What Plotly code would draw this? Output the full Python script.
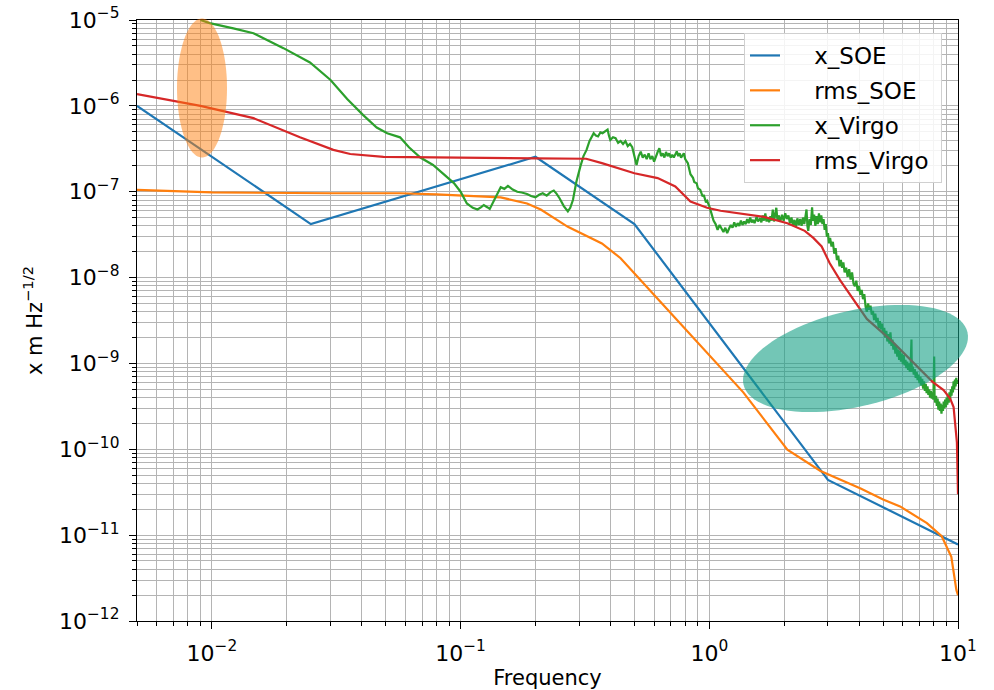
import numpy as np
import plotly.graph_objects as go

# ---------------- data ----------------
soe_f = [0.005, 0.025, 0.2, 0.5, 3.0, 10.0]
soe_x = [1.0e-6, 4.2e-8, 2.55e-7, 4.2e-8, 4.4e-11, 7.8e-12]

rms_soe_f = [0.005, 0.01, 0.03, 0.057, 0.08, 0.106, 0.145, 0.185, 0.21, 0.27, 0.37, 0.44,
             0.53, 0.625, 1.37, 1.71, 2.06, 2.8, 3.16, 4.06, 5.0, 5.85, 7.5, 8.6, 9.4, 9.85, 10.0]
rms_soe_x = [1.05e-7, 9.8e-8, 9.6e-8, 9.6e-8, 9.3e-8, 8.9e-8, 8.6e-8, 7.3e-8, 6.2e-8, 3.9e-8,
             2.5e-8, 1.68e-8, 9.4e-9, 5.5e-9, 4.6e-10, 2.0e-10, 9.9e-11, 5.6e-11, 4.8e-11,
             3.5e-11, 2.6e-11, 2.16e-11, 1.38e-11, 9.7e-12, 5.6e-12, 2.3e-12, 2.0e-12]

# x_Virgo: (frequency, amplitude) pairs
virgo_low = [
    (0.009, 1.0e-5), (0.0098, 9.2e-6), (0.0122, 8.0e-6), (0.0147, 7.0e-6), (0.0194, 4.7e-6),
    (0.0248, 3.2e-6), (0.030, 2.0e-6), (0.035, 1.2e-6), (0.0406, 7.8e-7), (0.046, 5.6e-7),
    (0.0507, 4.8e-7), (0.055, 4.5e-7), (0.0571, 4.3e-7), (0.062, 3.3e-7), (0.0689, 2.5e-7),
    (0.0775, 2.05e-7), (0.0873, 1.5e-7), (0.094, 1.26e-7), (0.1, 1.0e-7), (0.106, 7.3e-8),
    (0.112, 6.5e-8), (0.117, 6.2e-8), (0.121, 6.6e-8), (0.124, 7.0e-8), (0.128, 6.6e-8),
    (0.131, 6.3e-8), (0.138, 8.5e-8), (0.145, 1.13e-7), (0.150, 1.08e-7), (0.155, 1.17e-7),
    (0.162, 1.06e-7), (0.169, 1.0e-7), (0.176, 9.8e-8), (0.185, 9.4e-8), (0.192, 8.9e-8),
    (0.2, 8.6e-8), (0.207, 9.2e-8), (0.214, 9.6e-8), (0.222, 9.0e-8), (0.230, 9.9e-8),
    (0.237, 1.03e-7), (0.243, 9.5e-8), (0.25, 8.4e-8), (0.26, 6.8e-8), (0.27, 5.9e-8),
    (0.276, 6.5e-8), (0.283, 8.0e-8), (0.292, 1.3e-7), (0.303, 1.96e-7), (0.312, 2.6e-7),
    (0.321, 3.07e-7), (0.330, 3.9e-7), (0.343, 4.8e-7), (0.350, 4.5e-7), (0.357, 4.4e-7),
    (0.365, 4.9e-7), (0.372, 4.8e-7), (0.38, 5.0e-7), (0.39, 5.3e-7), (0.395, 4.5e-7),
    (0.40, 4.0e-7), (0.41, 4.3e-7), (0.42, 4.2e-7), (0.43, 3.7e-7), (0.44, 3.9e-7),
    (0.45, 3.6e-7), (0.46, 3.9e-7), (0.47, 3.4e-7), (0.48, 3.6e-7), (0.49, 3.3e-7),
    (0.50, 2.6e-7), (0.51, 2.05e-7), (0.52, 2.6e-7), (0.53, 2.93e-7), (0.54, 2.5e-7),
    (0.55, 2.7e-7), (0.56, 2.4e-7), (0.57, 2.8e-7), (0.58, 2.4e-7), (0.59, 2.6e-7),
    (0.60, 2.24e-7), (0.61, 2.6e-7), (0.62, 2.9e-7), (0.63, 3.2e-7), (0.64, 2.6e-7),
    (0.65, 2.8e-7), (0.66, 2.5e-7), (0.67, 2.9e-7), (0.68, 2.6e-7), (0.69, 2.8e-7),
    (0.70, 2.5e-7), (0.71, 2.7e-7), (0.72, 2.5e-7), (0.74, 2.95e-7), (0.75, 2.6e-7),
    (0.76, 2.8e-7), (0.77, 2.5e-7), (0.79, 2.8e-7), (0.80, 2.4e-7), (0.82, 2.15e-7),
    (0.84, 1.6e-7), (0.86, 1.45e-7), (0.87, 1.3e-7), (0.89, 1.25e-7), (0.90, 1.1e-7),
    (0.92, 1.05e-7), (0.94, 8.8e-8), (0.95, 9.2e-8), (0.97, 7.5e-8), (0.98, 7.8e-8),
]
virgo_high = [
    (1.00, 6.8e-8), (1.02, 5.6e-8), (1.04, 4.6e-8), (1.06, 4.2e-8), (1.08, 3.6e-8),
    (1.10, 4.1e-8), (1.12, 3.7e-8), (1.14, 3.4e-8), (1.16, 3.8e-8), (1.18, 3.3e-8),
    (1.20, 3.7e-8), (1.22, 4.1e-8), (1.24, 3.8e-8), (1.26, 4.4e-8), (1.28, 3.9e-8),
    (1.30, 4.3e-8), (1.32, 4.0e-8), (1.34, 4.6e-8), (1.36, 4.1e-8), (1.38, 4.5e-8),
    (1.40, 4.2e-8), (1.42, 4.8e-8), (1.44, 4.3e-8), (1.46, 5.0e-8), (1.48, 4.4e-8),
    (1.50, 4.7e-8), (1.52, 4.3e-8), (1.55, 5.1e-8), (1.57, 4.5e-8), (1.60, 4.9e-8),
    (1.62, 4.4e-8), (1.64, 5.3e-8), (1.66, 4.6e-8), (1.68, 5.6e-8), (1.70, 4.5e-8),
    (1.72, 5.0e-8), (1.74, 4.4e-8), (1.76, 5.2e-8), (1.78, 4.6e-8), (1.80, 6.2e-8),
    (1.82, 4.5e-8), (1.84, 5.5e-8), (1.86, 6.5e-8), (1.88, 4.6e-8), (1.90, 5.3e-8),
    (1.93, 4.5e-8), (1.96, 5.4e-8), (1.99, 4.6e-8), (2.02, 5.6e-8), (2.05, 4.8e-8),
    (2.08, 5.3e-8), (2.11, 4.3e-8), (2.14, 5.0e-8), (2.17, 4.0e-8), (2.20, 4.7e-8),
    (2.23, 3.9e-8), (2.26, 4.9e-8), (2.29, 4.1e-8), (2.32, 4.8e-8), (2.35, 4.0e-8),
    (2.38, 5.0e-8), (2.41, 4.2e-8), (2.44, 5.2e-8), (2.46, 6.2e-8), (2.48, 4.0e-8),
    (2.50, 3.5e-8), (2.53, 4.8e-8), (2.56, 4.1e-8), (2.59, 6.6e-8), (2.61, 4.6e-8),
    (2.64, 5.4e-8), (2.67, 4.0e-8), (2.70, 5.2e-8), (2.73, 4.2e-8), (2.76, 5.6e-8),
    (2.79, 4.4e-8), (2.82, 5.3e-8), (2.85, 4.2e-8), (2.88, 4.8e-8), (2.91, 3.6e-8),
    (2.94, 4.2e-8), (2.97, 3.0e-8), (3.00, 3.3e-8), (3.03, 2.5e-8), (3.06, 2.9e-8),
    (3.10, 2.3e-8), (3.14, 2.6e-8), (3.18, 1.9e-8), (3.22, 2.2e-8), (3.26, 1.6e-8),
    (3.30, 1.8e-8), (3.34, 1.35e-8), (3.38, 1.6e-8), (3.42, 1.3e-8), (3.46, 1.5e-8),
    (3.50, 1.15e-8), (3.55, 1.3e-8), (3.60, 1.02e-8), (3.65, 1.25e-8), (3.70, 9.5e-9),
    (3.75, 1.15e-8), (3.80, 8.5e-9), (3.85, 7.9e-9), (3.90, 9.2e-9), (3.95, 7.0e-9),
    (4.00, 8.0e-9), (4.05, 6.3e-9), (4.10, 7.2e-9), (4.15, 5.6e-9), (4.20, 6.4e-9),
    (4.25, 4.6e-9), (4.30, 4.0e-9), (4.35, 5.0e-9), (4.40, 4.2e-9), (4.45, 4.7e-9),
    (4.50, 3.7e-9), (4.55, 4.1e-9), (4.60, 3.2e-9), (4.65, 3.8e-9), (4.70, 3.0e-9),
    (4.75, 3.4e-9), (4.80, 2.6e-9), (4.85, 3.1e-9), (4.90, 2.5e-9), (4.95, 2.9e-9),
    (5.00, 2.2e-9), (5.05, 2.6e-9), (5.10, 2.0e-9), (5.15, 2.4e-9), (5.20, 1.8e-9),
    (5.25, 2.2e-9), (5.30, 1.7e-9), (5.35, 2.3e-9), (5.40, 1.6e-9), (5.45, 1.9e-9),
    (5.50, 1.45e-9), (5.55, 1.7e-9), (5.60, 1.3e-9), (5.65, 1.6e-9), (5.70, 1.2e-9),
    (5.75, 1.45e-9), (5.80, 1.1e-9), (5.85, 1.4e-9), (5.90, 1.05e-9), (5.95, 1.3e-9),
    (6.00, 9.8e-10), (6.05, 1.25e-9), (6.10, 9.5e-10), (6.15, 1.1e-9), (6.20, 8.8e-10),
    (6.25, 1.05e-9), (6.30, 8.4e-10), (6.35, 1.0e-9), (6.40, 8.0e-10), (6.45, 9.5e-10),
    (6.50, 1.9e-9), (6.52, 8.0e-10), (6.58, 9.2e-10), (6.64, 7.4e-10), (6.70, 8.6e-10),
    (6.76, 6.8e-10), (6.82, 8.0e-10), (6.88, 6.4e-10), (6.94, 7.4e-10), (7.00, 5.9e-10),
    (7.06, 7.0e-10), (7.12, 5.5e-10), (7.18, 6.6e-10), (7.24, 5.1e-10), (7.30, 6.2e-10),
    (7.36, 4.8e-10), (7.42, 5.8e-10), (7.48, 4.5e-10), (7.54, 5.4e-10), (7.60, 4.3e-10),
    (7.66, 5.0e-10), (7.72, 4.0e-10), (7.78, 4.8e-10), (7.84, 3.9e-10), (7.90, 4.6e-10),
    (7.96, 3.8e-10), (8.02, 1.2e-9), (8.05, 4.2e-10), (8.10, 3.5e-10), (8.16, 4.2e-10),
    (8.22, 3.2e-10), (8.28, 3.9e-10), (8.34, 2.9e-10), (8.40, 3.6e-10), (8.46, 2.8e-10),
    (8.52, 3.4e-10), (8.58, 2.6e-10), (8.64, 3.3e-10), (8.70, 2.8e-10), (8.76, 3.6e-10),
    (8.82, 3.0e-10), (8.88, 3.8e-10), (8.94, 3.1e-10), (9.00, 4.0e-10), (9.06, 3.3e-10),
    (9.12, 4.3e-10), (9.18, 3.5e-10), (9.24, 4.6e-10), (9.30, 3.8e-10), (9.36, 5.0e-10),
    (9.42, 4.2e-10), (9.48, 5.4e-10), (9.54, 4.6e-10), (9.60, 6.2e-10), (9.66, 5.0e-10),
    (9.72, 6.5e-10), (9.78, 5.4e-10), (9.84, 6.8e-10), (9.90, 5.8e-10), (9.96, 6.4e-10),
    (10.0, 6.0e-10),
]

rms_virgo_f = [0.005, 0.009, 0.0147, 0.0226, 0.0308, 0.036, 0.049, 0.1, 0.2, 0.32,
               0.37, 0.5, 0.62, 0.73, 0.84, 0.98, 1.11, 1.66, 2.06, 2.42,
               2.62, 2.83, 3.05, 3.35, 3.98, 4.3, 5.36, 6.63, 7.9, 8.75,
               9.3, 9.6, 9.75, 9.9, 10.0]
rms_virgo_x = [1.37e-6, 1.0e-6, 7.2e-7, 4.3e-7, 3.07e-7, 2.75e-7, 2.54e-7, 2.47e-7, 2.45e-7, 2.42e-7,
               2.15e-7, 1.64e-7, 1.44e-7, 1.15e-7, 7.7e-8, 6.5e-8, 6.0e-8, 5.1e-8, 4.3e-8, 3.5e-8,
               2.9e-8, 2.3e-8, 1.47e-8, 9.4e-9, 4.56e-9, 3.3e-9, 1.88e-9, 1.0e-9, 6.1e-10, 4.9e-10,
               3.9e-10, 3.1e-10, 2.0e-10, 1.2e-10, 3.0e-11]

series_names = ["x_SOE", "rms_SOE", "x_Virgo", "rms_Virgo"]
series_colors = ["#1f77b4", "#ff7f0e", "#2ca02c", "#d62728"]

x_tickvals = [0.01, 0.1, 1, 10]
x_ticktext = ["10<sup>−2</sup>", "10<sup>−1</sup>", "10<sup>0</sup>", "10<sup>1</sup>"]
y_tickvals = [1e-12, 1e-11, 1e-10, 1e-9, 1e-8, 1e-7, 1e-6, 1e-5]
y_ticktext = ["10<sup>−12</sup>", "10<sup>−11</sup>", "10<sup>−10</sup>", "10<sup>−9</sup>",
              "10<sup>−8</sup>", "10<sup>−7</sup>", "10<sup>−6</sup>", "10<sup>−5</sup>"]

# ---------------- figure ----------------
W, H = 994, 690
L, R, T, B = 137, 36, 20, 69
FONT = "DejaVu Sans"
NB = "\u00a0"

virgo_all = virgo_low + virgo_high
virgo_f = [p[0] for p in virgo_all]
virgo_x = [p[1] for p in virgo_all]

fig = go.Figure()
pairs = [(soe_f, soe_x), (rms_soe_f, rms_soe_x), (virgo_f, virgo_x), (rms_virgo_f, rms_virgo_x)]
for i, ((fx, fy), name, col) in enumerate(zip(pairs, series_names, series_colors)):
    fig.add_trace(go.Scatter(x=fx, y=fy, mode="lines", name=NB * 4 + name + NB,
                             legendgroup=f"g{i}", line=dict(color=col, width=2.2)))

minor_x = [k * 10.0 ** e for e in range(-3, 1) for k in range(2, 10)]
minor_y = [k * 10.0 ** e for e in range(-12, -5) for k in range(2, 10)]

grid_col = "#b4b4b4"
common_axis = dict(type="log", showline=True, linecolor="black", linewidth=1.3, mirror=True,
                   ticks="outside", ticklen=7, tickwidth=1.2, tickcolor="black",
                   showgrid=True, gridcolor=grid_col, gridwidth=1.3, zeroline=False,
                   ticklabelstandoff=5, ticklabeloverflow="allow",
                   tickfont=dict(family=FONT, size=22, color="black"))

fig.update_xaxes(**common_axis, range=[np.log10(0.005), 1.0000001],
                 tickmode="array", tickvals=x_tickvals, ticktext=x_ticktext,
                 minor=dict(tickmode="array", tickvals=minor_x, ticks="outside", ticklen=4,
                            tickwidth=1, tickcolor="black", showgrid=True,
                            gridcolor=grid_col, gridwidth=1.2),
                 title=dict(text="Frequency", font=dict(family=FONT, size=21, color="black"),
                            standoff=6))
fig.update_yaxes(**common_axis, range=[-12.0000001, -4.9999999],
                 tickmode="array", tickvals=y_tickvals, ticktext=y_ticktext,
                 minor=dict(tickmode="array", tickvals=minor_y, ticks="outside", ticklen=4,
                            tickwidth=1, tickcolor="black", showgrid=True,
                            gridcolor=grid_col, gridwidth=1.2),
                 title=dict(text="x m Hz<sup>−1/2</sup>",
                            font=dict(family=FONT, size=21, color="black"), standoff=10))


# ---------------- highlight ellipses (decorations; centre/size in window pixels) ----------------
def ellipse_path(cx, cy, a, b, theta_deg, n=90):
    th = np.deg2rad(theta_deg)
    t = np.linspace(0, 2 * np.pi, n, endpoint=False)
    px = cx + a * np.cos(t) * np.cos(th) - b * np.sin(t) * np.sin(th)
    py = cy - (a * np.cos(t) * np.sin(th) + b * np.sin(t) * np.cos(th))
    pw, ph = W - L - R, H - T - B
    xs = (px - L) / pw
    ys = (H - B - py) / ph
    return "M " + " L ".join(f"{x:.5f},{y:.5f}" for x, y in zip(xs, ys)) + " Z"


fig.add_shape(type="path", xref="paper", yref="paper", layer="above",
              path=ellipse_path(202, 88, 25, 69.5, 0),
              fillcolor="#ff7f0e", opacity=0.5, line=dict(width=0))
fig.add_shape(type="path", xref="paper", yref="paper", layer="above",
              path=ellipse_path(855.5, 358.5, 115, 48, 13.2),
              fillcolor="#16a085", opacity=0.6, line=dict(width=0))

fig.update_layout(
    width=W, height=H,
    margin=dict(l=L, r=R, t=T, b=B, autoexpand=False),
    paper_bgcolor="white", plot_bgcolor="white",
    font=dict(family=FONT, size=21, color="black"),
    showlegend=True,
    legend=dict(x=(744 - L) / (W - L - R), y=(H - B - 33) / (H - T - B),
                xanchor="left", yanchor="top",
                bgcolor="rgba(255,255,255,0.85)", bordercolor="#d0d0d0", borderwidth=1,
                font=dict(family=FONT, size=23, color="black"),
                traceorder="grouped", tracegroupgap=2),
)

# remove the default 8px page margin so the figure fills the window exactly
fig.write_html("out.html", config={"displayModeBar": False},
               post_script="document.body.style.margin='0px';document.body.style.overflow='hidden';")
